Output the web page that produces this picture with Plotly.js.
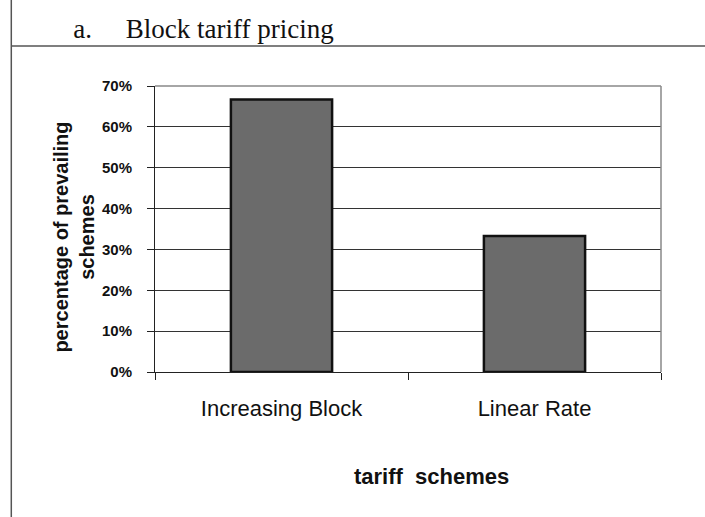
<!DOCTYPE html>
<html>
<head>
<meta charset="utf-8">
<script src="https://cdn.plot.ly/plotly-3.0.1.min.js"></script>
<style>
  html, body { margin: 0; padding: 0; background: #fff; }
  #chart { width: 705px; height: 517px; }
</style>
</head>
<body>
<div id="chart"></div>
<script>
// tariff scheme shares
const schemes = ["Increasing Block", "Linear Rate"];
const shares = [0.667, 0.333];

const trace = {
  type: "bar",
  x: schemes,
  y: shares,
  marker: { color: "#6b6b6b", line: { color: "#111", width: 2.5 } },
  hoverinfo: "x+y",
};

const layout = {
  width: 705,
  height: 517,
  margin: { l: 155, r: 44, t: 86, b: 145 },
  paper_bgcolor: "#fff",
  plot_bgcolor: "#fff",
  bargap: 0.6,
  showlegend: false,
  font: { family: "Liberation Sans, Arial, sans-serif", color: "#111" },
  title: {
    text: "a.&nbsp;&nbsp;&nbsp;&nbsp;&nbsp;Block tariff pricing",
    font: { family: "Liberation Serif, Times New Roman, serif", size: 27, color: "#111" },
    xref: "container",
    yref: "container",
    x: 0.104,
    xanchor: "left",
    y: 0.944,
    yanchor: "middle",
  },
  xaxis: {
    type: "category",
    tickson: "boundaries",
    ticks: "outside",
    ticklen: 7,
    tickcolor: "#222",
    showline: true,
    linecolor: "#222",
    linewidth: 1,
    showgrid: false,
    ticklabelstandoff: 17,
    tickfont: { size: 22, color: "#111" },
  },
  yaxis: {
    range: [0, 0.7],
    dtick: 0.1,
    tickformat: ".0%",
    ticks: "outside",
    ticklen: 7,
    tickcolor: "#222",
    showline: true,
    linecolor: "#222",
    linewidth: 1,
    showgrid: true,
    gridcolor: "#333",
    gridwidth: 1,
    zeroline: false,
    ticklabelstandoff: 12,
    tickfont: { size: 15, color: "#111", weight: "bold" },
  },
  annotations: [
    // axis titles placed like the Excel original
    { text: "percentage of prevailing<br>schemes", textangle: -90,
      xref: "paper", yref: "paper", x: -0.16, y: 0.47,
      xanchor: "center", yanchor: "middle", showarrow: false,
      font: { size: 20, color: "#111", weight: "bold" } },
    { text: "tariff&nbsp;&nbsp;schemes",
      xref: "paper", yref: "paper", x: 0.547, y: -0.367,
      xanchor: "center", yanchor: "middle", showarrow: false,
      font: { size: 22, color: "#111", weight: "bold" } },
  ],
  shapes: [
    // gray frame of the plot area (top and right)
    { type: "line", xref: "paper", yref: "paper", x0: 0, x1: 1, y0: 1, y1: 1,
      line: { color: "#888", width: 1.5 } },
    { type: "line", xref: "paper", yref: "paper", x0: 1, x1: 1, y0: 0, y1: 1,
      line: { color: "#888", width: 1.5 } },
    // page rules around the figure
    { type: "line", xref: "paper", yref: "paper", x0: -0.284, x1: 1.09, y0: 1.14, y1: 1.14,
      line: { color: "#555", width: 1.5 } },
    { type: "line", xref: "paper", yref: "paper", x0: -0.284, x1: -0.284, y0: -0.51, y1: 1.31,
      line: { color: "#555", width: 1.5 } },
  ],
};

Plotly.newPlot("chart", [trace], layout, { displayModeBar: false, responsive: false });
</script>
</body>
</html>
